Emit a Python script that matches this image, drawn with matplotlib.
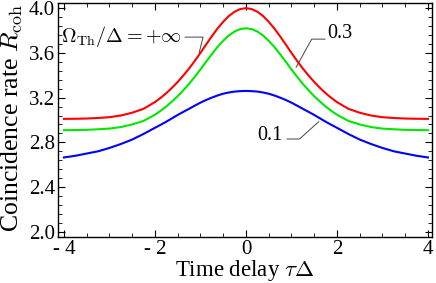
import numpy as np
import matplotlib.pyplot as plt
from matplotlib.ticker import MultipleLocator, FixedLocator

plt.rcParams['font.family'] = ['Liberation Serif', 'DejaVu Serif']
plt.rcParams['mathtext.fontset'] = 'cm'

# Datos (tau*Delta, R_coh)
tau = [-4.0, -3.75, -3.5, -3.25, -3.0, -2.75, -2.5, -2.25,
       -2.0, -1.875, -1.75, -1.625, -1.5, -1.375, -1.25, -1.125,
       -1.0, -0.875, -0.75, -0.625, -0.5, -0.375, -0.25, -0.125,
       0.0,
       0.125, 0.25, 0.375, 0.5, 0.625, 0.75, 0.875, 1.0,
       1.125, 1.25, 1.375, 1.5, 1.625, 1.75, 1.875, 2.0,
       2.25, 2.5, 2.75, 3.0, 3.25, 3.5, 3.75, 4.0]
r_inf = [3.010, 3.011, 3.013, 3.018, 3.025, 3.040, 3.065, 3.100,
         3.160, 3.198, 3.240, 3.288, 3.340, 3.398, 3.460, 3.528,
         3.600, 3.675, 3.748, 3.818, 3.878, 3.930, 3.968, 3.992,
         4.000,
         3.992, 3.968, 3.930, 3.878, 3.818, 3.748, 3.675, 3.600,
         3.528, 3.460, 3.398, 3.340, 3.288, 3.240, 3.198, 3.160,
         3.100, 3.065, 3.040, 3.025, 3.018, 3.013, 3.011, 3.010]
r_03 = [2.909, 2.910, 2.912, 2.917, 2.923, 2.937, 2.960, 2.992,
        3.047, 3.082, 3.121, 3.165, 3.213, 3.266, 3.323, 3.386,
        3.452, 3.521, 3.588, 3.653, 3.708, 3.756, 3.791, 3.813,
        3.820,
        3.813, 3.791, 3.756, 3.708, 3.653, 3.588, 3.521, 3.452,
        3.386, 3.323, 3.266, 3.213, 3.165, 3.121, 3.082, 3.047,
        2.992, 2.960, 2.937, 2.923, 2.917, 2.912, 2.910, 2.909]
r_01 = [2.665, 2.680, 2.700, 2.720, 2.750, 2.785, 2.825, 2.875,
        2.930, 2.957, 2.985, 3.015, 3.045, 3.073, 3.100, 3.128,
        3.155, 3.179, 3.200, 3.219, 3.235, 3.246, 3.254, 3.258,
        3.260,
        3.258, 3.254, 3.246, 3.235, 3.219, 3.200, 3.179, 3.155,
        3.128, 3.100, 3.073, 3.045, 3.015, 2.985, 2.957, 2.930,
        2.875, 2.825, 2.785, 2.750, 2.720, 2.700, 2.680, 2.665]

xticks = [-4, -2, 0, 2, 4]
xticklabels = ['- 4', '- 2', '0', '2', '4']
yticks = [2.0, 2.4, 2.8, 3.2, 3.6, 4.0]

fig = plt.figure(figsize=(4.36, 2.83), dpi=100)
ax = fig.add_axes([0.133, 0.163, 0.858, 0.826])

ax.plot(tau, r_inf, color='#ff0000', lw=1.5)
ax.plot(tau, r_03, color='#00e800', lw=1.5)
ax.plot(tau, r_01, color='#0000ff', lw=1.5)

ax.set_xlim(-4.13, 4.09)
ax.set_ylim(1.955, 4.045)

ax.xaxis.set_major_locator(FixedLocator(xticks))
ax.set_xticklabels(xticklabels)
ax.xaxis.set_minor_locator(MultipleLocator(0.5))
ax.set_yticks(yticks)
ax.set_yticklabels(['%.1f' % v for v in yticks])
ax.yaxis.set_minor_locator(MultipleLocator(0.08))
ax.tick_params(which='both', direction='in', top=True, right=True, labelsize=15)
ax.tick_params(axis='x', pad=2)
ax.tick_params(axis='y', pad=2)
ax.tick_params(which='major', length=5, width=0.8)
ax.tick_params(which='minor', length=3, width=0.6)
for s in ax.spines.values():
    s.set_linewidth(1.0)

ax.set_xlabel(r'Time delay $\tau\Delta$', fontsize=16.5)
ax.xaxis.set_label_coords(0.5, -0.092)
ax.set_ylabel(r'Coincidence rate $R_{\rm coh}$', fontsize=18.5)
ax.yaxis.set_label_coords(-0.088, 0.51)

# Etiquetas con líneas guía
lead = dict(arrowstyle='-', color='#444444', lw=0.7, shrinkA=0, shrinkB=0)
ax.text(-1.41, 3.745, r'$\Omega_{\rm Th}/\Delta=+\infty$', fontsize=14.5, ha='right', va='center')
ax.annotate('', xy=(-1.03, 3.598), xytext=(-1.34, 3.741),
            arrowprops=dict(lead, connectionstyle='angle,angleA=0,angleB=76,rad=0'))
ax.text(1.78, 3.77, '0.3', fontsize=14.5, ha='left', va='center')
ax.annotate('', xy=(1.10, 3.47), xytext=(1.74, 3.723),
            arrowprops=dict(lead, connectionstyle='angle,angleA=0,angleB=61,rad=0'))
ax.text(0.81, 2.857, '0.1', fontsize=14.5, ha='right', va='center')
ax.annotate('', xy=(1.60, 2.985), xytext=(0.90, 2.830),
            arrowprops=dict(lead, connectionstyle='angle,angleA=0,angleB=42,rad=0'))

fig.savefig('out.png', dpi=100)
